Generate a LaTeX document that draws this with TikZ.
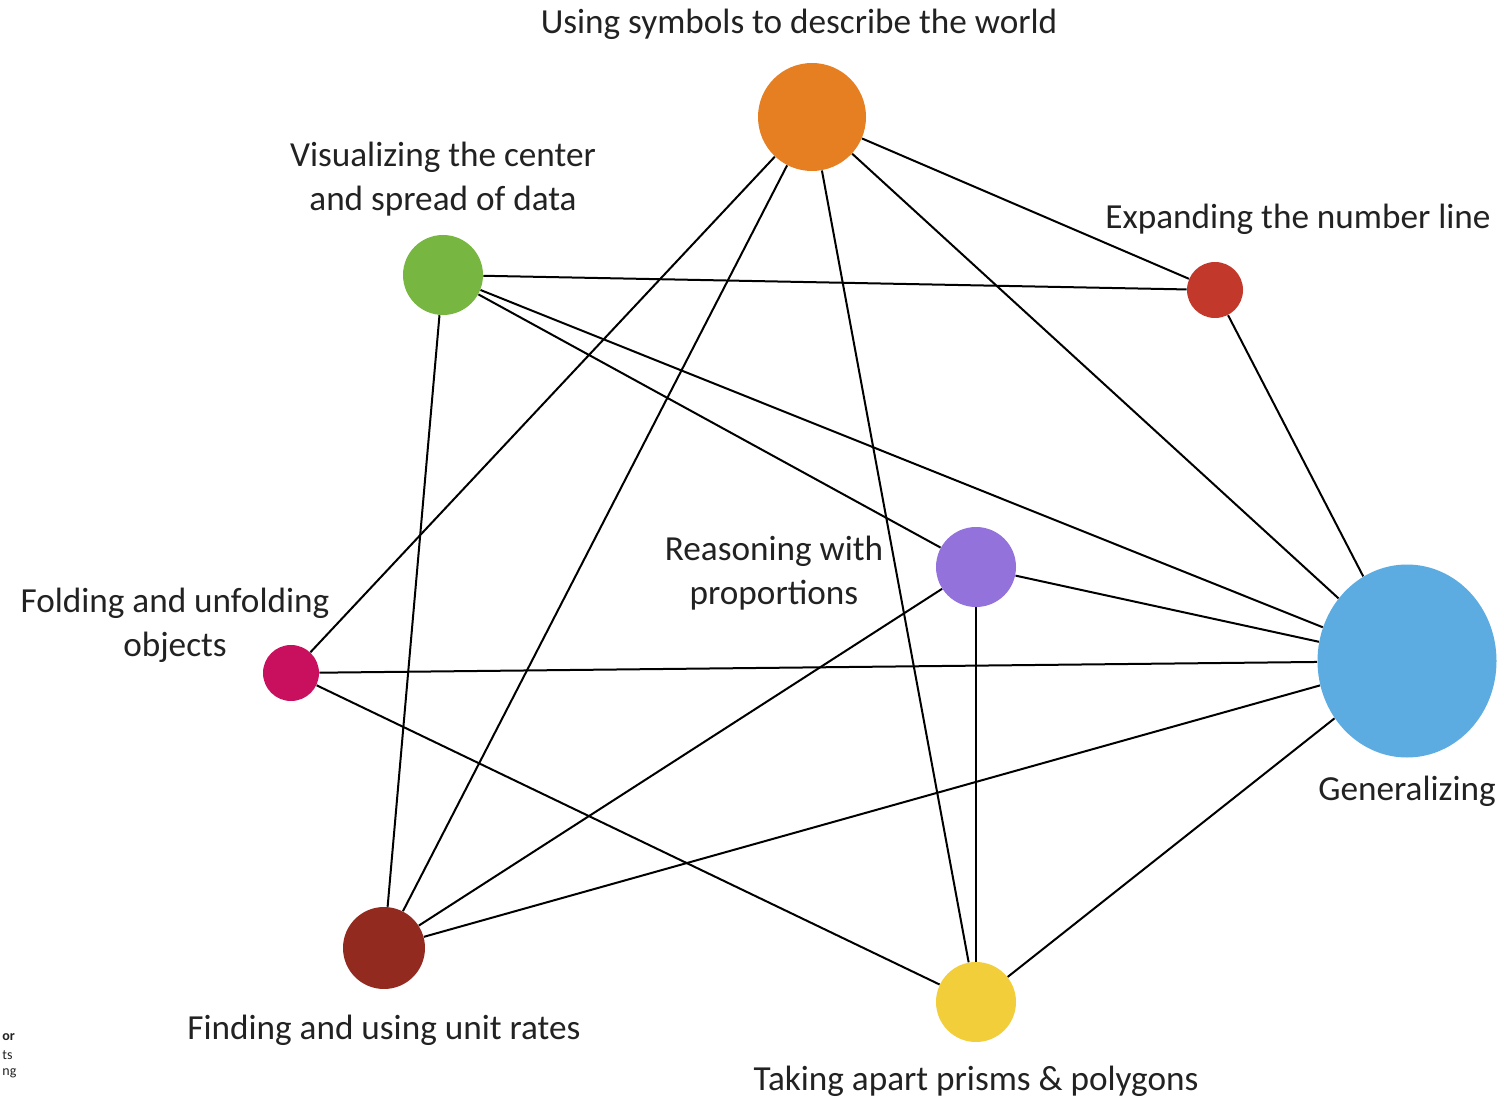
\documentclass[tikz,border=0pt]{standalone}
\usepackage{fontspec}
\setmainfont{Carlito}
\usetikzlibrary{shapes.geometric}

\definecolor{symorange}{RGB}{230,126,34}
\definecolor{datagreen}{RGB}{120,182,66}
\definecolor{numred}{RGB}{194,56,42}
\definecolor{propviolet}{RGB}{147,114,220}
\definecolor{foldpink}{RGB}{200,16,95}
\definecolor{genblue}{RGB}{92,172,226}
\definecolor{ratebrown}{RGB}{146,42,32}
\definecolor{prismyellow}{RGB}{242,206,58}
\definecolor{labelgray}{RGB}{34,34,34}

\tikzset{
  topic/.style={circle, inner sep=0pt},
  link/.style={line width=1pt, black},
  caption/.style={text=labelgray, align=center, font=\fontsize{17.6}{22}\selectfont, inner sep=0pt},
  scrap/.style={text=labelgray, anchor=west, font=\fontsize{7}{9}\selectfont, inner sep=0pt}
}

\begin{document}
\begin{tikzpicture}[x=0.5pt,y=-0.5pt]
\useasboundingbox (0,0) rectangle (1504,1101);
\fill[white] (0,0) rectangle (1504,1101);
% the topics
\node[topic, fill=symorange, minimum size=54pt] (sym) at (812,117){};
\node[topic, fill=datagreen, minimum size=40pt] (data) at (443,275){};
\node[topic, fill=numred, minimum size=28pt] (num) at (1215,290){};
\node[topic, fill=propviolet, minimum size=40pt] (prop) at (976,567){};
\node[topic, fill=foldpink, minimum size=28pt] (fold) at (291,673){};
\node[ellipse, inner sep=0pt, fill=genblue, minimum width=89.5pt, minimum height=96.5pt] (gen) at (1407,661){};
\node[topic, fill=ratebrown, minimum size=41pt] (rate) at (384,948){};
\node[topic, fill=prismyellow, minimum size=40pt] (prism) at (976,1002){};
% the links
\draw[link] (sym) -- (num);
\draw[link] (sym) -- (gen);
\draw[link] (sym) -- (fold);
\draw[link] (sym) -- (rate);
\draw[link] (sym) -- (prism);
\draw[link] (data) -- (num);
\draw[link] (data) -- (gen);
\draw[link] (data) -- (prop);
\draw[link] (data) -- (rate);
\draw[link] (num) -- (gen);
\draw[link] (prop) -- (gen);
\draw[link] (prop) -- (rate);
\draw[link] (prop) -- (prism);
\draw[link] (fold) -- (gen);
\draw[link] (fold) -- (prism);
\draw[link] (rate) -- (gen);
\draw[link] (prism) -- (gen);
% the captions
\node[caption] (symtext) at (799,24){Using symbols to describe the world};
\node[caption] (datatext) at (443,179){Visualizing the center\\and spread of data};
\node[caption] (numtext) at (1298,219){Expanding the number line};
\node[caption] (proptext) at (774,573){Reasoning with\\proportions};
\node[caption] (foldtext) at (175,625){Folding and unfolding\\objects};
\node[caption] (gentext) at (1407,791){Generalizing};
\node[caption] (ratetext) at (384,1030){Finding and using unit rates};
\node[caption] (prismtext) at (976,1081){Taking apart prisms \& polygons};
% cut-off text at the left edge
\node[scrap] (scrapa) at (2,1037){\bfseries or};
\node[scrap] (scrapb) at (2,1055){ts};
\node[scrap] (scrapc) at (2,1073){ng};
\end{tikzpicture}
\end{document}
